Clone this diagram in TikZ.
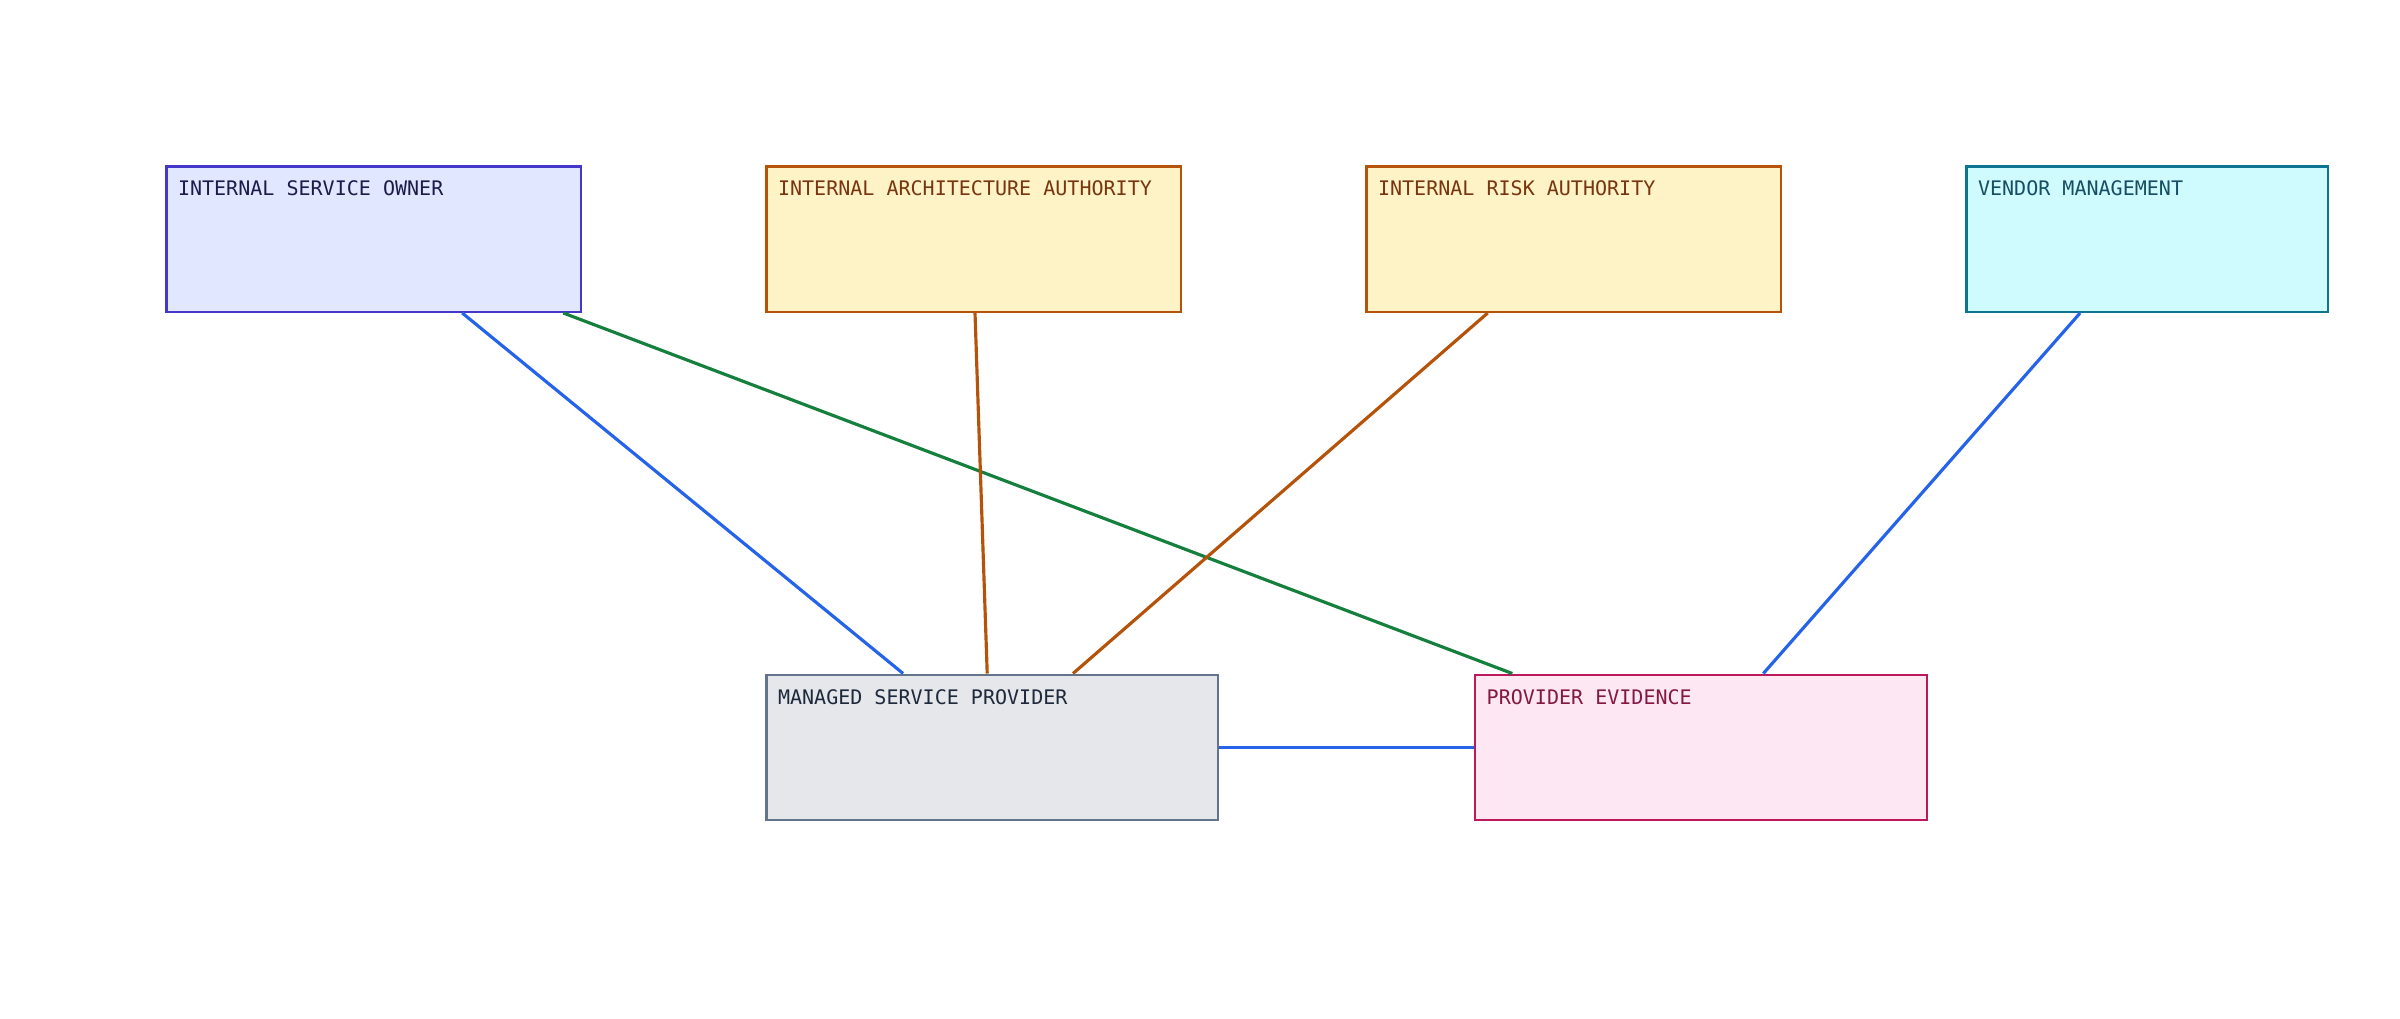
\documentclass[tikz,border=0pt]{standalone}
\usepackage{fontspec}
\setmonofont{DejaVu Sans Mono}
\usepackage[HTML]{xcolor}
\usetikzlibrary{positioning}

\definecolor{isoFill}{HTML}{E0E7FF}\definecolor{isoLine}{HTML}{4338CA}\definecolor{isoText}{HTML}{1E1B4B}
\definecolor{authFill}{HTML}{FEF3C7}\definecolor{authLine}{HTML}{B45309}\definecolor{authText}{HTML}{78350F}
\definecolor{vmFill}{HTML}{CFFAFE}\definecolor{vmLine}{HTML}{0E7490}\definecolor{vmText}{HTML}{164E63}
\definecolor{mspFill}{HTML}{E5E7EB}\definecolor{mspLine}{HTML}{64748B}\definecolor{mspText}{HTML}{1E293B}
\definecolor{peFill}{HTML}{FCE7F3}\definecolor{peLine}{HTML}{BE185D}\definecolor{peText}{HTML}{831843}
\definecolor{edgeBlue}{HTML}{2563EB}\definecolor{edgeGreen}{HTML}{15803D}\definecolor{edgeOrange}{HTML}{B45309}

\tikzset{
  box/.style={draw, line width=0.65pt, anchor=north west, inner sep=0pt, minimum height=1.454cm},
  tag/.style={anchor=north west, inner sep=0pt, font=\ttfamily\fontsize{5.7}{6}\selectfont},
  link/.style={line width=0.9pt}
}

\begin{document}
\begin{tikzpicture}
\useasboundingbox (0,0) rectangle (24,10.18);

% boxes, top row
\node[box, fill=isoFill, draw=isoLine, minimum width=4.148cm] (iso) at (1.653,8.527) {};
\node[box, fill=authFill, draw=authLine, minimum width=4.148cm] (iaa) at (7.653,8.527) {};
\node[box, fill=authFill, draw=authLine, minimum width=4.148cm] (ira) at (13.653,8.527) {};
\node[box, fill=vmFill, draw=vmLine, minimum width=3.612cm] (vm) at (19.653,8.527) {};
% boxes, bottom row
\node[box, fill=mspFill, draw=mspLine, minimum width=4.515cm] (msp) at (7.653,3.445) {};
\node[box, fill=peFill, draw=peLine, minimum width=4.515cm] (pe) at (14.740,3.445) {};

% labels
\node[tag, text=isoText] (iso-t) at ([xshift=0.12cm, yshift=-0.15cm]iso.north west) {INTERNAL SERVICE OWNER};
\node[tag, text=authText] (iaa-t) at ([xshift=0.12cm, yshift=-0.15cm]iaa.north west) {INTERNAL ARCHITECTURE AUTHORITY};
\node[tag, text=authText] (ira-t) at ([xshift=0.12cm, yshift=-0.15cm]ira.north west) {INTERNAL RISK AUTHORITY};
\node[tag, text=vmText] (vm-t) at ([xshift=0.12cm, yshift=-0.15cm]vm.north west) {VENDOR MANAGEMENT};
\node[tag, text=mspText] (msp-t) at ([xshift=0.12cm, yshift=-0.15cm]msp.north west) {MANAGED SERVICE PROVIDER};
\node[tag, text=peText] (pe-t) at ([xshift=0.12cm, yshift=-0.15cm]pe.north west) {PROVIDER EVIDENCE};

% connectors
\draw[link, edgeBlue] ([xshift=2.969cm]iso.south west) -- ([xshift=1.378cm]msp.north west);
\draw[link, edgeGreen] ([xshift=3.980cm]iso.south west) -- ([xshift=0.383cm]pe.north west);
\draw[link, edgeOrange] ([xshift=2.097cm]iaa.south west) -- ([xshift=2.219cm]msp.north west);
\draw[link, edgeOrange] ([xshift=1.224cm]ira.south west) -- ([xshift=3.077cm]msp.north west);
\draw[link, edgeBlue] ([xshift=1.148cm]vm.south west) -- ([xshift=2.893cm]pe.north west);
\draw[link, edgeBlue] (msp.east) -- (pe.west);

\end{tikzpicture}
\end{document}
